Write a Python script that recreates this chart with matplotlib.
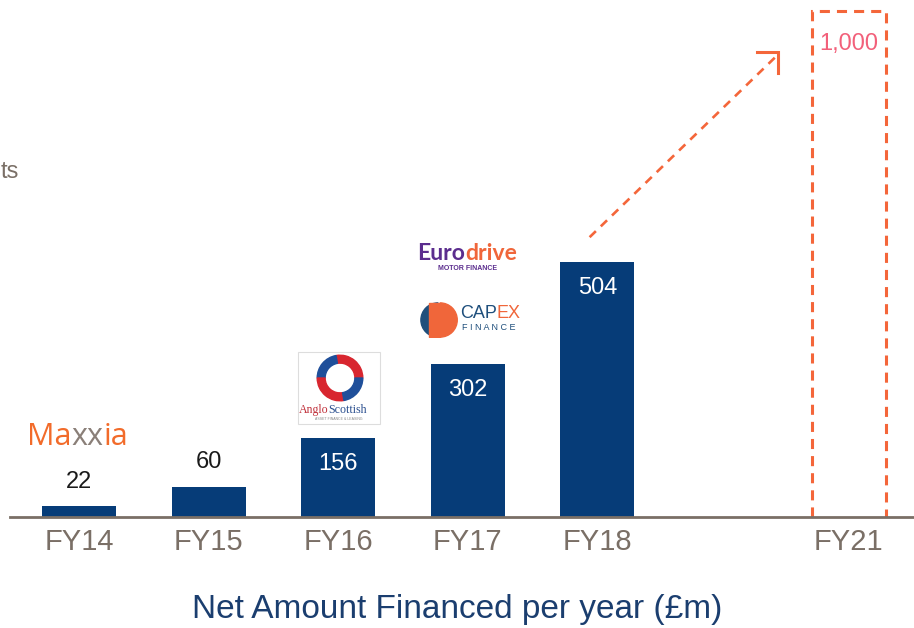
import matplotlib
matplotlib.use("Agg")
import matplotlib.pyplot as plt
from matplotlib.patches import Wedge, Rectangle

plt.rcParams['font.family'] = ['Liberation Sans', 'DejaVu Sans']

# ---- data ----
categories = ["FY14", "FY15", "FY16", "FY17", "FY18", "FY21"]
positions = [0, 1, 2, 3, 4, 5.94]
values = [22, 60, 156, 302, 504, 1000]
value_labels = ["22", "60", "156", "302", "504", "1,000"]
is_target = [False, False, False, False, False, True]
xlabel = "Net Amount Financed per year (£m)"

W, H = 914, 628
fig = plt.figure(figsize=(W / 100, H / 100), dpi=100)

base_px = 517
ax = fig.add_axes([0, (H - base_px) / H, 1, base_px / H])
ymax = base_px / 0.506
ax.set_ylim(0, ymax)
ax.set_xlim(-79 / 129.6, (W - 79) / 129.6)

navy = "#063c78"
orange = "#f4663a"
grey = "#7a6f66"
bw = 0.571

for p, v, lab, tgt in zip(positions, values, value_labels, is_target):
    if tgt:
        ax.plot([p - bw / 2, p - bw / 2, p + bw / 2, p + bw / 2], [0, v, v, 0],
                color=orange, lw=2.2, linestyle=(0, (3.3, 2.3)), clip_on=False,
                solid_joinstyle='miter', dash_joinstyle='miter')
        ax.text(p, v - 66, lab, ha='center', va='center', fontsize=17, color="#f2607a")
    else:
        ax.bar(p, v, width=bw, color=navy, zorder=2)
        if v < 100:
            ax.text(p, v + 48, lab, ha='center', va='center', fontsize=17, color="#1a1a1a")
        else:
            ax.text(p, v - 51, lab, ha='center', va='center', fontsize=17, color="white")

# growth arrow from FY18 toward FY21
x0, y0 = positions[4] - 0.06, values[4] + 49
x1, y1 = positions[5] - 0.55, values[5] - 87
ax.plot([x0, x1], [y0, y1], color=orange, lw=1.9, linestyle=(0, (3.3, 2.6)))
ax.plot([x1 - 0.162, x1, x1], [y1 + 6, y1 + 6, y1 - 36], color=orange, lw=2.2,
        solid_joinstyle='miter')

# axes styling
for s in ['top', 'right', 'left']:
    ax.spines[s].set_visible(False)
ax.spines['bottom'].set_color(grey)
ax.spines['bottom'].set_linewidth(2.0)
ax.spines['bottom'].set_bounds((10 - 79) / 129.6, (W - 79) / 129.6)
ax.set_yticks([])
ax.set_xticks(positions)
ax.set_xticklabels(categories, fontsize=21, color=grey)
ax.tick_params(axis='x', length=0, pad=8)
ax.set_xlabel(xlabel, fontsize=24, color="#1b3e6f", labelpad=27)


def fx(x):
    return x / W


def fy(y):
    return 1 - y / H


renderer = fig.canvas.get_renderer()


def multi_text(x, y, pieces, **kw):
    """Draw consecutive coloured pieces starting at pixel x (left), y center."""
    cur = x
    for s, c in pieces:
        t = fig.text(fx(cur), fy(y), s, color=c, ha='left', va='center', **kw)
        bb = t.get_window_extent(renderer=renderer)
        cur += bb.width


# partial text at the left edge
fig.text(fx(1), fy(172), "ts", ha='left', va='center', fontsize=17, color=grey)

# Maxxia logo
multi_text(27, 437, [("Ma", "#f26b2a"), ("xx", "#8a7f78"), ("ia", "#f26b2a")],
           fontsize=22, family=['Open Sans', 'DejaVu Sans'])

# AngloScottish logo
box = Rectangle((fx(298), fy(424)), fx(82), (424 - 352) / H, transform=fig.transFigure,
                facecolor='white', edgecolor='#dddddd', lw=0.8, zorder=0.5)
fig.add_artist(box)
lax = fig.add_axes([fx(316), fy(402), fx(48), 48 / H])
lax.set_zorder(3)
lax.patch.set_alpha(0)
lax.set_xlim(-1, 1)
lax.set_ylim(-1, 1)
lax.set_aspect('equal')
lax.axis('off')
ring = [(0, 100, "#d8262f"), (100, 180, "#1f4f9a"), (180, 280, "#d8262f"), (280, 360, "#1f4f9a")]
for a0, a1, c in ring:
    lax.add_patch(Wedge((0, 0), 0.95, a0, a1, width=0.33, color=c))
multi_text(299, 410, [("Anglo", "#c0303a"), ("Scottish", "#2a4f8f")],
           fontsize=8.6, family=['Liberation Serif', 'DejaVu Serif'])
fig.text(fx(339), fy(419), "ASSET FINANCE & LEASING", ha='center', va='center',
         fontsize=2.5, color="#888888")

# CAPEX logo
cax = fig.add_axes([fx(418), fy(338), fx(40), 36 / H])
cax.set_zorder(3)
cax.patch.set_alpha(0)
cax.set_xlim(-1.1, 1.1)
cax.set_ylim(-1, 1)
cax.set_aspect('equal')
cax.axis('off')
cax.add_patch(Wedge((0, 0), 0.95, 90, 270, color="#1f4f7c"))
cax.add_patch(Wedge((0.12, 0), 0.95, -90, 90, color="#f0663a"))
cax.add_patch(Rectangle((-0.5, -0.95), 0.62, 1.9, color="#f0663a"))
multi_text(460, 314, [("CAP", "#1f4f7c"), ("EX", "#f0663a")], fontsize=13)
fig.text(fx(489), fy(328), "F I N A N C E", ha='center', va='center', fontsize=6.5,
         color="#1f4f7c")

# Eurodrive logo
multi_text(417, 253, [("Euro", "#5b2d8e"), ("drive", "#f0663a")], fontsize=16.5,
           family=['Lato', 'DejaVu Sans'], fontweight='bold')
fig.text(fx(468), fy(269), "MOTOR FINANCE", ha='center', va='center', fontsize=5,
         color="#5b2d8e", fontweight='bold')

fig.savefig("out.png", dpi=100)
